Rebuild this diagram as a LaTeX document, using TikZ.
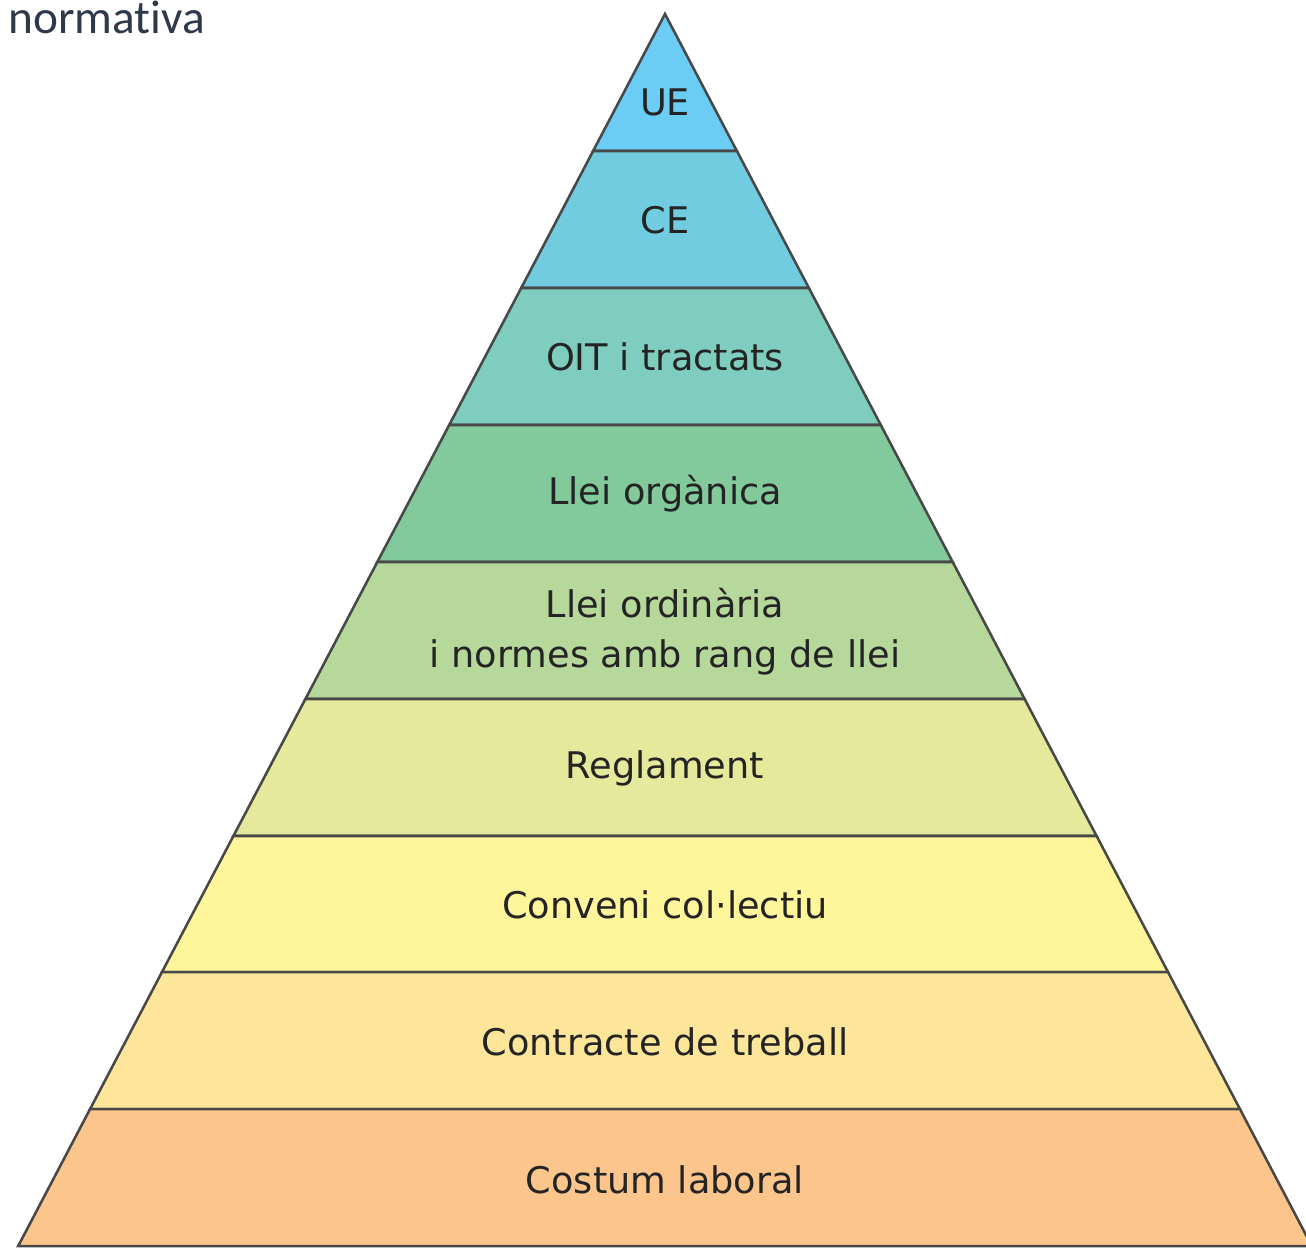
\documentclass[tikz,border=0pt]{standalone}
\usepackage{fontspec}
\setmainfont{DejaVu Sans}
\newfontfamily\titlefont[Ligatures=NoCommon]{Carlito}

\definecolor{cUE}{HTML}{6CCDF4}
\definecolor{cCE}{HTML}{70CCDE}
\definecolor{cOIT}{HTML}{7FCDBF}
\definecolor{cLOrg}{HTML}{82C99B}
\definecolor{cLOrd}{HTML}{B6D99B}
\definecolor{cRegl}{HTML}{E5E99B}
\definecolor{cConv}{HTML}{FFF59B}
\definecolor{cContr}{HTML}{FDE59A}
\definecolor{cCost}{HTML}{FBC58B}
\definecolor{cTitle}{HTML}{2E3A4C}
\definecolor{cLine}{HTML}{484848}

\tikzset{
  band/.style={draw=cLine, line width=1.9pt, line join=miter},
  lbl/.style={inner sep=0.75pt, align=center, text=black!86,
    font=\fontsize{27.5}{37.5}\selectfont}
}

\begin{document}
\begin{tikzpicture}[x=0.75pt,y=0.75pt,yscale=-1,xscale=1]
\useasboundingbox (0,0) rectangle (1306,1247);
\clip (0,0) rectangle (1306,1247);

%Shape: Triangle [UE]
\draw [band, fill=cUE] (665,14) -- (736.9,151) -- (593.1,151) -- cycle ;
%Shape: Trapezoid [CE]
\draw [band, fill=cCE] (593.1,151) -- (736.9,151) -- (808.9,288) -- (521.2,288) -- cycle ;
%Shape: Trapezoid [OIT]
\draw [band, fill=cOIT] (521.2,288) -- (808.9,288) -- (880.8,425) -- (449.2,425) -- cycle ;
%Shape: Trapezoid [Llei organica]
\draw [band, fill=cLOrg] (449.2,425) -- (880.8,425) -- (952.7,562) -- (377.3,562) -- cycle ;
%Shape: Trapezoid [Llei ordinaria]
\draw [band, fill=cLOrd] (377.3,562) -- (952.7,562) -- (1024.6,699) -- (305.4,699) -- cycle ;
%Shape: Trapezoid [Reglament]
\draw [band, fill=cRegl] (305.4,699) -- (1024.6,699) -- (1096.6,836) -- (233.4,836) -- cycle ;
%Shape: Trapezoid [Conveni]
\draw [band, fill=cConv] (233.4,836) -- (1096.6,836) -- (1168,972) -- (162,972) -- cycle ;
%Shape: Trapezoid [Contracte]
\draw [band, fill=cContr] (162,972) -- (1168,972) -- (1239.9,1109) -- (90.1,1109) -- cycle ;
%Shape: Trapezoid [Costum]
\draw [band, fill=cCost] (90.1,1109) -- (1239.9,1109) -- (1311.8,1246) -- (18.2,1246) -- cycle ;

% Text Node
\node [lbl] (ue) at (665,102) {UE};
% Text Node
\node [lbl] (ce) at (665,220) {CE};
% Text Node
\node [lbl] (oit) at (665,357) {OIT i tractats};
% Text Node
\node [lbl] (lleiorg) at (665,494) {Llei orgànica};
% Text Node
\node [lbl] (lleiord) at (665,632) {Llei ordinària\\i normes amb rang de llei};
% Text Node
\node [lbl] (regl) at (665,768) {Reglament};
% Text Node
\node [lbl] (conveni) at (665,905) {Conveni col·lectiu};
% Text Node
\node [lbl] (contracte) at (665,1042) {Contracte de treball};
% Text Node
\node [lbl] (costum) at (665,1180) {Costum laboral};
% Text Node
\node [anchor=base west, inner sep=0pt, text=cTitle, font=\titlefont\fontsize{35.5}{42}\selectfont] (titol) at (8,33) {normativa};

\end{tikzpicture}
\end{document}
